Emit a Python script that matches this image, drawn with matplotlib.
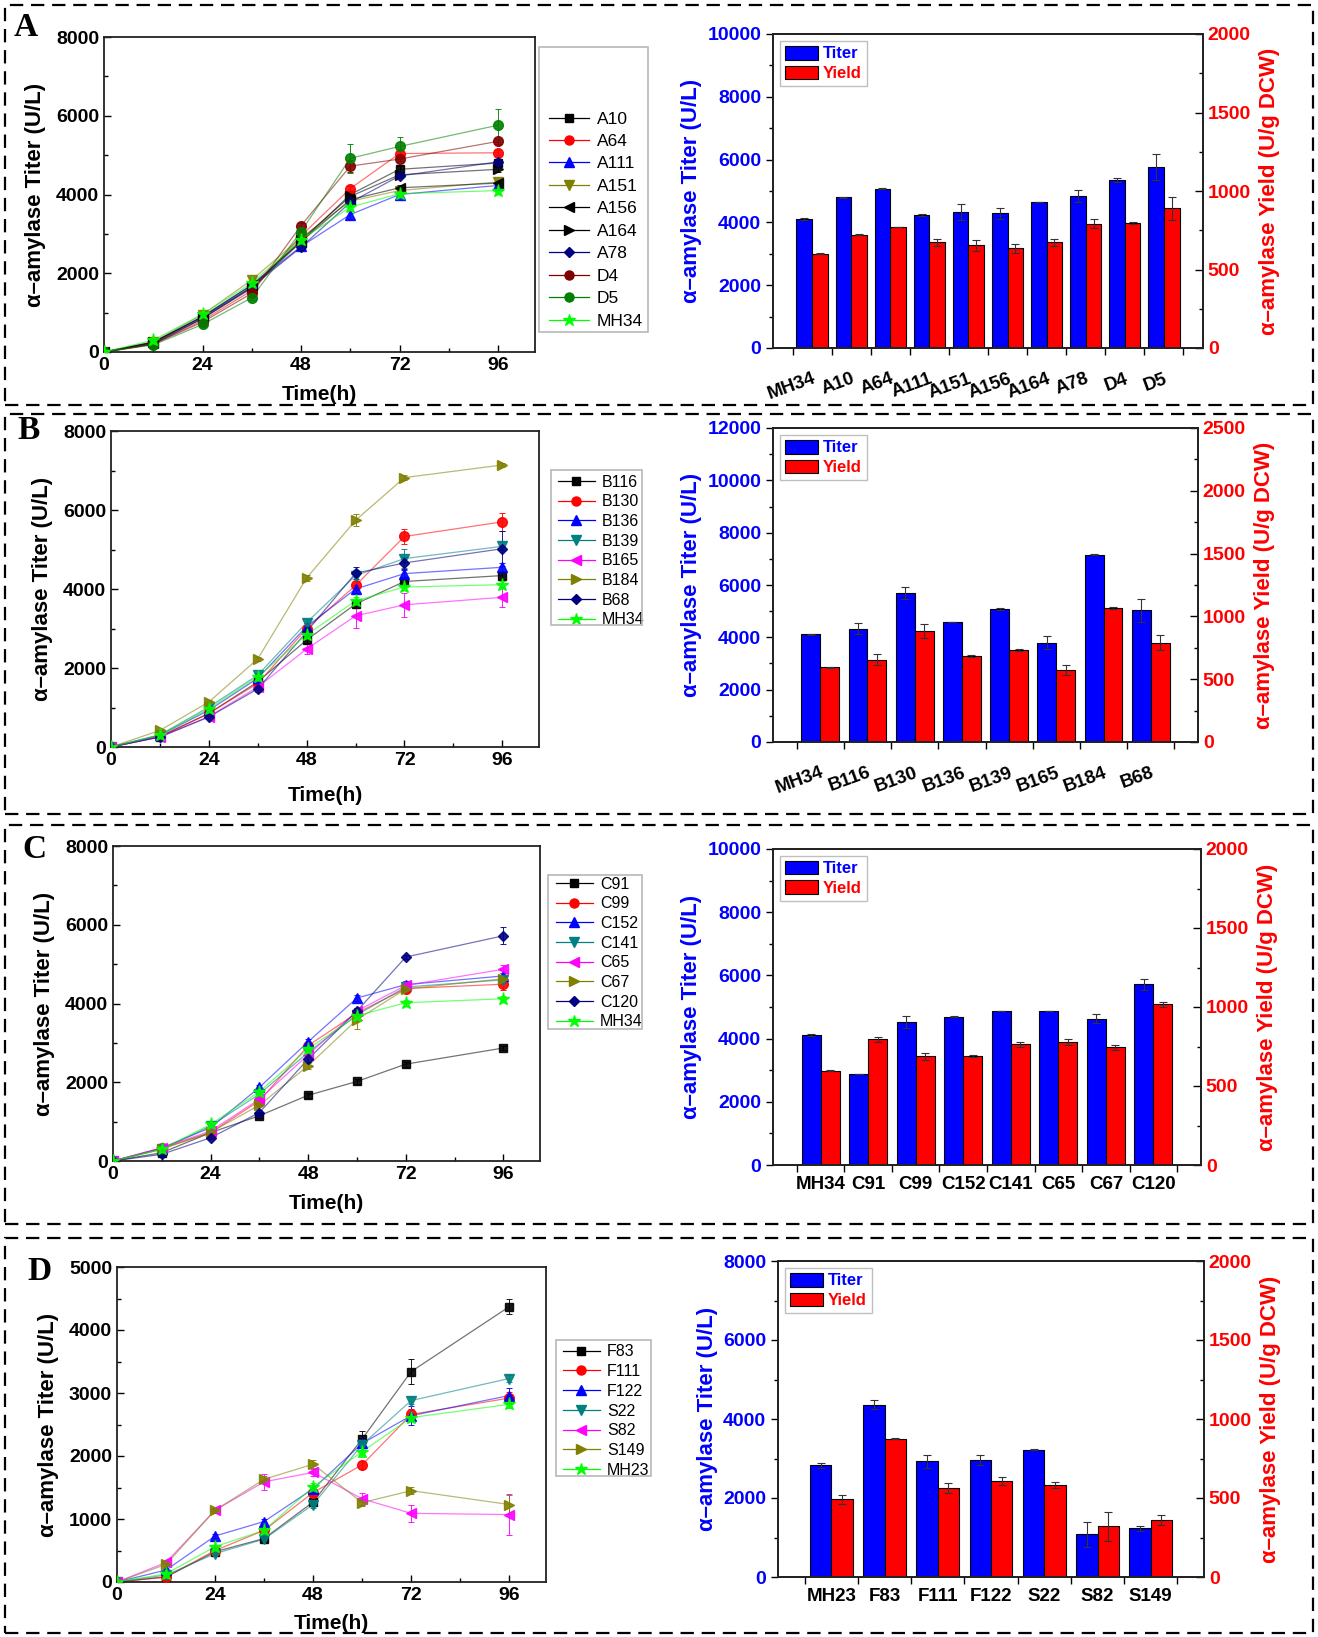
import numpy as np
import matplotlib
matplotlib.use('Agg')
import matplotlib.pyplot as plt
from matplotlib.lines import Line2D
from matplotlib.patches import Rectangle, Patch
from matplotlib.ticker import MultipleLocator

plt.rcParams['font.family'] = ['Liberation Sans', 'DejaVu Sans']
plt.rcParams['font.weight'] = 'bold'
plt.rcParams['axes.labelweight'] = 'bold'

W, H = 1318, 1637
fig = plt.figure(figsize=(W / 100, H / 100), dpi=100)


def box(l, t, r, b):
    # pixel box (left, top, right, bottom) -> figure fraction rect
    return [l / W, 1 - b / H, (r - l) / W, (b - t) / H]


time_h = [0, 12, 24, 36, 48, 60, 72, 96]

# ---------------- time courses ----------------
a_strains = ['A10', 'A64', 'A111', 'A151', 'A156', 'A164', 'A78', 'D4', 'D5', 'MH34']
a_colors = ['#000000', '#FF0000', '#0000FF', '#808000', '#000000', '#000000',
            '#000080', '#800000', '#008000', '#00FF00']
a_markers = ['s', 'o', '^', 'v', '<', '>', 'D', 'o', 'o', '*']
a_titer = [[0, 220, 850, 1620, 2800, 4000, 4640, 4800],
           [0, 200, 800, 1560, 2950, 4150, 5040, 5060],
           [0, 250, 900, 1700, 2680, 3490, 4000, 4230],
           [0, 260, 950, 1830, 2900, 3830, 4100, 4320],
           [0, 240, 900, 1700, 2800, 3870, 4170, 4290],
           [0, 250, 880, 1650, 2850, 3950, 4500, 4640],
           [0, 200, 850, 1650, 2660, 3800, 4470, 4830],
           [0, 200, 760, 1490, 3210, 4720, 4900, 5350],
           [0, 180, 700, 1380, 3060, 4920, 5220, 5760],
           [0, 300, 960, 1750, 2850, 3680, 4020, 4100]]
a_err = [[0, 20, 40, 50, 60, 80, 80, 80],
         [0, 20, 40, 50, 60, 60, 60, 60],
         [0, 20, 40, 50, 80, 100, 80, 60],
         [0, 20, 40, 50, 60, 60, 60, 60],
         [0, 20, 40, 50, 60, 60, 60, 60],
         [0, 20, 40, 50, 60, 60, 60, 80],
         [0, 20, 40, 50, 80, 60, 60, 60],
         [0, 20, 40, 50, 60, 150, 60, 60],
         [0, 20, 40, 50, 60, 370, 250, 420],
         [0, 20, 40, 50, 60, 60, 60, 60]]

b_strains = ['B116', 'B130', 'B136', 'B139', 'B165', 'B184', 'B68', 'MH34']
b_colors = ['#000000', '#FF0000', '#0000FF', '#008080', '#FF00FF', '#808000',
            '#000080', '#00FF00']
b_markers = ['s', 'o', '^', 'v', '<', '>', 'D', '*']
b_titer = [[0, 260, 850, 1650, 2710, 3620, 4190, 4340],
           [0, 270, 850, 1610, 3000, 4090, 5330, 5700],
           [0, 300, 930, 1740, 3050, 4000, 4390, 4550],
           [0, 310, 1010, 1820, 3150, 4340, 4770, 5080],
           [0, 260, 770, 1520, 2480, 3320, 3600, 3790],
           [0, 420, 1140, 2230, 4280, 5740, 6820, 7140],
           [0, 250, 760, 1470, 2920, 4400, 4660, 5020],
           [0, 300, 970, 1780, 2840, 3700, 4050, 4110]]
b_err = [[0, 20, 40, 60, 80, 100, 80, 80],
         [0, 20, 40, 60, 80, 100, 180, 230],
         [0, 20, 40, 60, 80, 100, 100, 100],
         [0, 20, 40, 60, 80, 150, 250, 100],
         [0, 20, 40, 80, 130, 300, 300, 250],
         [0, 20, 40, 60, 80, 150, 60, 60],
         [0, 20, 40, 80, 80, 150, 150, 450],
         [0, 20, 40, 60, 80, 100, 80, 80]]

c_strains = ['C91', 'C99', 'C152', 'C141', 'C65', 'C67', 'C120', 'MH34']
c_colors = ['#000000', '#FF0000', '#0000FF', '#008080', '#FF00FF', '#808000',
            '#000080', '#00FF00']
c_markers = ['s', 'o', '^', 'v', '<', '>', 'D', '*']
c_titer = [[0, 210, 720, 1150, 1670, 2020, 2460, 2870],
           [0, 320, 720, 1530, 2930, 3760, 4380, 4490],
           [0, 330, 850, 1870, 3030, 4140, 4480, 4700],
           [0, 300, 890, 1700, 2760, 3710, 4420, 4600],
           [0, 340, 760, 1570, 2700, 3810, 4460, 4870],
           [0, 300, 730, 1420, 2420, 3590, 4370, 4630],
           [0, 170, 590, 1230, 2590, 3810, 5180, 5720],
           [0, 300, 930, 1760, 2850, 3690, 4020, 4120]]
c_err = [[0, 20, 40, 60, 60, 60, 60, 60],
         [0, 20, 40, 60, 80, 100, 100, 150],
         [0, 20, 40, 60, 80, 80, 80, 80],
         [0, 20, 40, 60, 80, 80, 80, 80],
         [0, 20, 40, 60, 80, 80, 120, 100],
         [0, 20, 40, 60, 80, 250, 100, 80],
         [0, 20, 40, 60, 80, 80, 60, 220],
         [0, 20, 40, 60, 80, 80, 80, 60]]

d_strains = ['F83', 'F111', 'F122', 'S22', 'S82', 'S149', 'MH23']
d_colors = ['#000000', '#FF0000', '#0000FF', '#008080', '#FF00FF', '#808000', '#00FF00']
d_markers = ['s', 'o', '^', 'v', '<', '>', '*']
d_titer = [[0, 80, 480, 690, 1270, 2270, 3340, 4370],
           [0, 80, 500, 820, 1420, 1860, 2660, 2920],
           [0, 190, 730, 960, 1480, 2200, 2640, 2960],
           [0, 110, 450, 680, 1230, 2180, 2880, 3230],
           [0, 310, 1140, 1590, 1740, 1320, 1090, 1070],
           [0, 280, 1140, 1630, 1870, 1260, 1450, 1230],
           [0, 130, 560, 820, 1510, 2070, 2610, 2820]]
d_err = [[0, 20, 30, 40, 60, 130, 200, 120],
         [0, 20, 30, 40, 60, 60, 80, 100],
         [0, 20, 30, 40, 60, 80, 150, 120],
         [0, 20, 30, 40, 60, 80, 60, 60],
         [0, 20, 40, 130, 60, 100, 130, 320],
         [0, 20, 40, 60, 60, 60, 60, 150],
         [0, 20, 30, 40, 60, 80, 60, 60]]

# ---------------- end-point bars ----------------
a_bar_cats = ['MH34', 'A10', 'A64', 'A111', 'A151', 'A156', 'A164', 'A78', 'D4', 'D5']
a_bar_titer = [4110, 4800, 5065, 4230, 4330, 4290, 4640, 4850, 5350, 5765]
a_bar_titer_err = [20, 20, 15, 30, 255, 180, 0, 190, 50, 415]
a_bar_yield = [600, 722, 771, 673, 654, 635, 673, 792, 796, 890]
a_bar_yield_err = [4, 5, 0, 21, 34, 30, 23, 30, 4, 72]

b_bar_cats = ['MH34', 'B116', 'B130', 'B136', 'B139', 'B165', 'B184', 'B68']
b_bar_titer = [4120, 4330, 5695, 4570, 5080, 3790, 7150, 5030]
b_bar_titer_err = [20, 220, 220, 0, 30, 250, 20, 450]
b_bar_yield = [597, 655, 885, 685, 733, 573, 1066, 789]
b_bar_yield_err = [4, 43, 57, 10, 8, 40, 8, 60]

c_bar_cats = ['MH34', 'C91', 'C99', 'C152', 'C141', 'C65', 'C67', 'C120']
c_bar_titer = [4118, 2883, 4520, 4690, 4868, 4868, 4636, 5713]
c_bar_titer_err = [20, 10, 180, 20, 0, 0, 150, 180]
c_bar_yield = [598, 796, 688, 688, 765, 779, 746, 1016]
c_bar_yield_err = [3, 17, 23, 6, 15, 21, 15, 15]

d_bar_cats = ['MH23', 'F83', 'F111', 'F122', 'S22', 'S82', 'S149']
d_bar_titer = [2828, 4361, 2930, 2964, 3226, 1084, 1228]
d_bar_titer_err = [70, 115, 170, 135, 20, 315, 70]
d_bar_yield = [491, 876, 561, 607, 582, 322, 358]
d_bar_yield_err = [26, 5, 32, 24, 17, 92, 32]

ms_map = {'s': 6, 'o': 7, '^': 7, 'v': 7, '<': 7, '>': 7, 'D': 5.5, '*': 9.5}


def line_panel(rect, strains, colors, markers, titer, err, ymax, ystep,
               leg_box, leg_x, leg_cy, leg_fs, leg_ls, xpad):
    ax = fig.add_axes(rect)
    for name, c, m, y, e in zip(strains, colors, markers, titer, err):
        ax.plot(time_h, y, color=c, lw=0.9, alpha=0.55, zorder=2)
        ax.errorbar(time_h, y, yerr=e, fmt=m, color=c, ms=ms_map[m], mec=c,
                    ecolor=c, elinewidth=0.7, capsize=2.5, capthick=0.7,
                    alpha=0.9, zorder=3)
    ax.set_xlim(0, 105)
    ax.set_ylim(0, ymax)
    ax.xaxis.set_major_locator(MultipleLocator(24))
    ax.xaxis.set_minor_locator(MultipleLocator(12))
    ax.yaxis.set_major_locator(MultipleLocator(ystep))
    ax.yaxis.set_minor_locator(MultipleLocator(ystep / 2))
    ax.tick_params(which='both', direction='in', width=1.0, labelsize=14)
    ax.tick_params(which='major', length=5)
    ax.tick_params(which='minor', length=3)
    for lab in ax.get_xticklabels() + ax.get_yticklabels():
        lab.set_fontweight('bold')
    for s in ax.spines.values():
        s.set_linewidth(1.3)
        s.set_color('#222222')
    ax.set_xlabel('Time(h)', fontsize=15, labelpad=xpad)
    ax.set_ylabel('α–amylase Titer (U/L)', fontsize=16, labelpad=7)

    l, t, r, b = leg_box
    fig.add_artist(Rectangle((l / W, 1 - b / H), (r - l) / W, (b - t) / H,
                             transform=fig.transFigure, fill=False,
                             ec='#B8B8B8', lw=1.2))
    handles = [Line2D([0], [0], color=c, lw=0.9, marker=m, ms=ms_map[m] - 0.5,
                      mfc=c, mec=c) for c, m in zip(colors, markers)]
    leg = ax.legend(handles, strains, loc='center left',
                    bbox_to_anchor=(leg_x / W, 1 - leg_cy / H),
                    bbox_transform=fig.transFigure, frameon=False,
                    borderpad=0, borderaxespad=0, fontsize=leg_fs,
                    handlelength=2.3, handletextpad=0.45, labelspacing=leg_ls)
    for tx in leg.get_texts():
        tx.set_fontweight('normal')
    return ax


def bar_panel(rect, cats, titer, terr, yld, yerr, tmax, tstep, ymax, ystep, rot):
    ax = fig.add_axes(rect)
    x = np.arange(len(cats))
    ekw = dict(elinewidth=0.8, capthick=0.8, ecolor='#333333')
    ax.bar(x - 0.2, titer, 0.4, yerr=terr, color='#0000FF', edgecolor='black',
           lw=0.8, capsize=3, error_kw=ekw)
    ax2 = ax.twinx()
    ax2.bar(x + 0.2, yld, 0.4, yerr=yerr, color='#FF0000', edgecolor='black',
            lw=0.8, capsize=3, error_kw=ekw)
    ax.set_xlim(-1, len(cats))
    ax.set_ylim(0, tmax)
    ax2.set_ylim(0, ymax)
    ax.yaxis.set_major_locator(MultipleLocator(tstep))
    ax.yaxis.set_minor_locator(MultipleLocator(tstep / 2))
    ax2.yaxis.set_major_locator(MultipleLocator(ystep))
    ax2.yaxis.set_minor_locator(MultipleLocator(ystep / 2))
    ax.set_xticks(x)
    if rot:
        ax.set_xticklabels(cats, rotation=rot, ha='right', va='top',
                           rotation_mode='anchor', fontsize=13.5, fontweight='bold')
        ax.tick_params(axis='x', which='major', length=0, pad=16)
    else:
        ax.set_xticklabels(cats, fontsize=13.5, fontweight='bold')
        ax.tick_params(axis='x', which='major', length=0, pad=8)
    ax.set_xticks(np.arange(-0.5, len(cats)), minor=True)
    ax.tick_params(axis='x', which='minor', length=5, direction='out', width=1.0)
    ax.tick_params(axis='y', which='both', direction='out', colors='black',
                   labelcolor='#0000FF', labelsize=14, width=1.0)
    ax.tick_params(axis='y', which='major', length=5)
    ax.tick_params(axis='y', which='minor', length=3)
    ax2.tick_params(axis='y', which='both', direction='in', colors='black',
                    labelcolor='#FF0000', labelsize=14, width=1.0)
    ax2.tick_params(axis='y', which='major', length=6)
    ax2.tick_params(axis='y', which='minor', length=3)
    for lab in ax.get_yticklabels() + ax2.get_yticklabels():
        lab.set_fontweight('bold')
    for a in (ax, ax2):
        for s in a.spines.values():
            s.set_linewidth(1.3)
            s.set_color('#222222')
    ax.set_ylabel('α–amylase Titer (U/L)', color='#0000FF', fontsize=16, labelpad=4)
    ax2.set_ylabel('α–amylase Yield (U/g DCW)', color='#FF0000', fontsize=16,
                   labelpad=6)
    handles = [Patch(fc='#0000FF', ec='black', lw=0.8),
               Patch(fc='#FF0000', ec='black', lw=0.8)]
    leg = ax2.legend(handles, ['Titer', 'Yield'], loc='upper left', fontsize=12,
                     frameon=True, fancybox=False, edgecolor='#B0B0B0',
                     handlelength=2.0, handleheight=0.9, handletextpad=0.3,
                     labelspacing=0.25, borderpad=0.3, borderaxespad=0.4)
    leg.get_frame().set_linewidth(1.0)
    for tx, c in zip(leg.get_texts(), ['#0000FF', '#FF0000']):
        tx.set_color(c)
        tx.set_fontweight('bold')
    return ax


# Row A
line_panel(box(104, 37, 535, 352), a_strains, a_colors, a_markers, a_titer, a_err,
           8000, 2000, (539, 47, 648, 332), 549, 220, 12.5, 0.42, 8)
bar_panel(box(773, 34, 1203, 348), a_bar_cats, a_bar_titer, a_bar_titer_err,
          a_bar_yield, a_bar_yield_err, 10000, 2000, 2000, 500, 20)

# Row B
line_panel(box(111, 431, 539, 747), b_strains, b_colors, b_markers, b_titer, b_err,
           8000, 2000, (551, 470, 642, 625), 558, 551, 11.5, 0.29, 12)
bar_panel(box(773, 428, 1198, 742), b_bar_cats, b_bar_titer, b_bar_titer_err,
          b_bar_yield, b_bar_yield_err, 12000, 2000, 2500, 500, 20)

# Row C
line_panel(box(113, 846, 540, 1161), c_strains, c_colors, c_markers, c_titer, c_err,
           8000, 2000, (548, 875, 642, 1029), 556, 953, 11.5, 0.29, 8)
bar_panel(box(773, 849, 1201, 1165), c_bar_cats, c_bar_titer, c_bar_titer_err,
          c_bar_yield, c_bar_yield_err, 10000, 2000, 2000, 500, 0)

# Row D
line_panel(box(117, 1267, 546, 1582), d_strains, d_colors, d_markers, d_titer, d_err,
           5000, 1000, (556, 1340, 651, 1476), 563, 1411, 11.5, 0.30, 7)
bar_panel(box(778, 1261, 1204, 1577), d_bar_cats, d_bar_titer, d_bar_titer_err,
          d_bar_yield, d_bar_yield_err, 8000, 2000, 2000, 500, 0)

# dashed frames and panel letters
for (t, b) in [(5, 405), (414, 814), (825, 1224), (1238, 1633)]:
    fig.add_artist(Rectangle((5 / W, 1 - b / H), (1313 - 5) / W, (b - t) / H,
                             transform=fig.transFigure, fill=False, ec='black',
                             lw=1.6, ls=(0, (6, 3.5))))
for letter, (x, y) in zip('ABCD', [(26, 28), (29, 430), (34, 850), (39, 1271)]):
    fig.text(x / W, 1 - y / H, letter, fontsize=24, fontweight='bold',
             family=['Liberation Serif', 'DejaVu Serif'], ha='center', va='center')

fig.savefig('out.png', dpi=100)
